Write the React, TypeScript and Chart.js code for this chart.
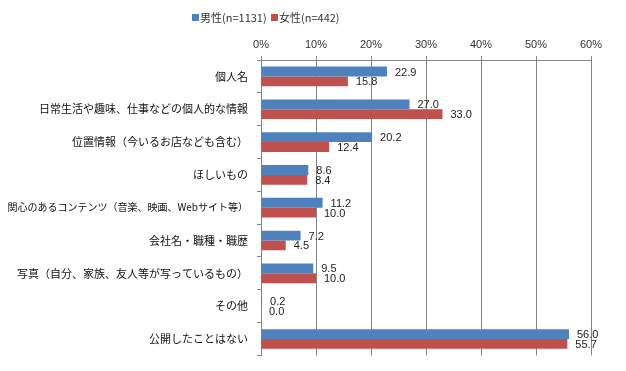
import React, { useEffect, useRef } from "react";
import { Chart, registerables } from "chart.js";

Chart.register(...registerables);

const categories = [
  "個人名",
  "日常生活や趣味、仕事などの個人的な情報",
  "位置情報（今いるお店なども含む）",
  "ほしいもの",
  "関心のあるコンテンツ（音楽、映画、Webサイト等）",
  "会社名・職種・職歴",
  "写真（自分、家族、友人等が写っているもの）",
  "その他",
  "公開したことはない",
];
const maleValues = [22.9, 27.0, 20.2, 8.6, 11.2, 7.2, 9.5, 0.2, 56.0];
const femaleValues = [15.8, 33.0, 12.4, 8.4, 10.0, 4.5, 10.0, 0.0, 55.7];
const seriesLabels = ["男性(n=1131)", "女性(n=442)"];
const xTicks = [0, 10, 20, 30, 40, 50, 60];

const FONT = "'Noto Sans CJK JP', 'Noto Sans', sans-serif";

const dataLabelPlugin = {
  id: "dataLabels",
  afterDatasetsDraw(chart: any) {
    const ctx = chart.ctx;
    ctx.save();
    ctx.font = "11px 'Liberation Sans', Arial, sans-serif";
    ctx.fillStyle = "#222";
    ctx.textBaseline = "middle";
    ctx.textAlign = "left";
    chart.data.datasets.forEach((ds: any, di: number) => {
      const meta = chart.getDatasetMeta(di);
      meta.data.forEach((bar: any, i: number) => {
        const v = ds.data[i] as number;
        ctx.fillText(v.toFixed(1), bar.x + 8, bar.y + 1);
      });
    });
    ctx.restore();
  },
};

const legendPlugin = {
  id: "customLegend",
  afterDraw(chart: any) {
    const ctx = chart.ctx;
    ctx.save();
    ctx.font = `11px ${FONT}`;
    ctx.textBaseline = "middle";
    ctx.textAlign = "left";
    const xs = [192, 271];
    chart.data.datasets.forEach((ds: any, di: number) => {
      const x = xs[di];
      ctx.fillStyle = ds.backgroundColor;
      ctx.fillRect(x, 14, 7, 7);
      ctx.fillStyle = "#333";
      ctx.fillText(ds.label, x + 8, 18);
    });
    ctx.restore();
  },
};

export default function App() {
  const ref = useRef<HTMLCanvasElement>(null);
  useEffect(() => {
    document.body.style.margin = "0";
    const chart = new Chart(ref.current!, {
      type: "bar",
      data: {
        labels: categories,
        datasets: [
          { label: seriesLabels[0], data: maleValues, backgroundColor: "#4F81BD", categoryPercentage: 0.6, barPercentage: 1 },
          { label: seriesLabels[1], data: femaleValues, backgroundColor: "#C0504D", categoryPercentage: 0.6, barPercentage: 1 },
        ],
      },
      options: {
        indexAxis: "y",
        animation: false,
        responsive: false,
        maintainAspectRatio: false,
        layout: { padding: { left: 0, right: 35, top: 0, bottom: 9 } },
        plugins: { legend: { display: false }, tooltip: { enabled: false } },
        scales: {
          x: {
            position: "top",
            min: 0,
            max: 60,
            afterBuildTicks: (scale: any) => {
              scale.ticks = xTicks.map((v) => ({ value: v }));
            },
            afterFit: (scale: any) => {
              scale.height = 60;
            },
            ticks: {
              callback: (v: any) => v + "%",
              font: { size: 11, family: "'Liberation Sans', Arial, sans-serif" },
              color: "#333",
              padding: 4,
            },
            grid: { color: "#868686", tickLength: 4, drawTicks: true },
            border: { color: "#868686" },
          },
          y: {
            afterFit: (scale: any) => {
              scale.width = 261;
            },
            ticks: {
              font: (c: any) => ({ size: c.index === 4 ? 10 : 11, family: FONT }),
              color: "#111",
              padding: 9,
              autoSkip: false,
            },
            grid: { drawOnChartArea: false, tickLength: 4, color: "#868686", offset: true },
            border: { color: "#868686" },
          },
        },
      },
      plugins: [dataLabelPlugin, legendPlugin],
    });
    return () => chart.destroy();
  }, []);
  return (
    <div style={{ width: 626, height: 371 }}>
      <canvas ref={ref} width={626} height={371} style={{ width: 626, height: 371, display: "block" }} />
    </div>
  );
}
